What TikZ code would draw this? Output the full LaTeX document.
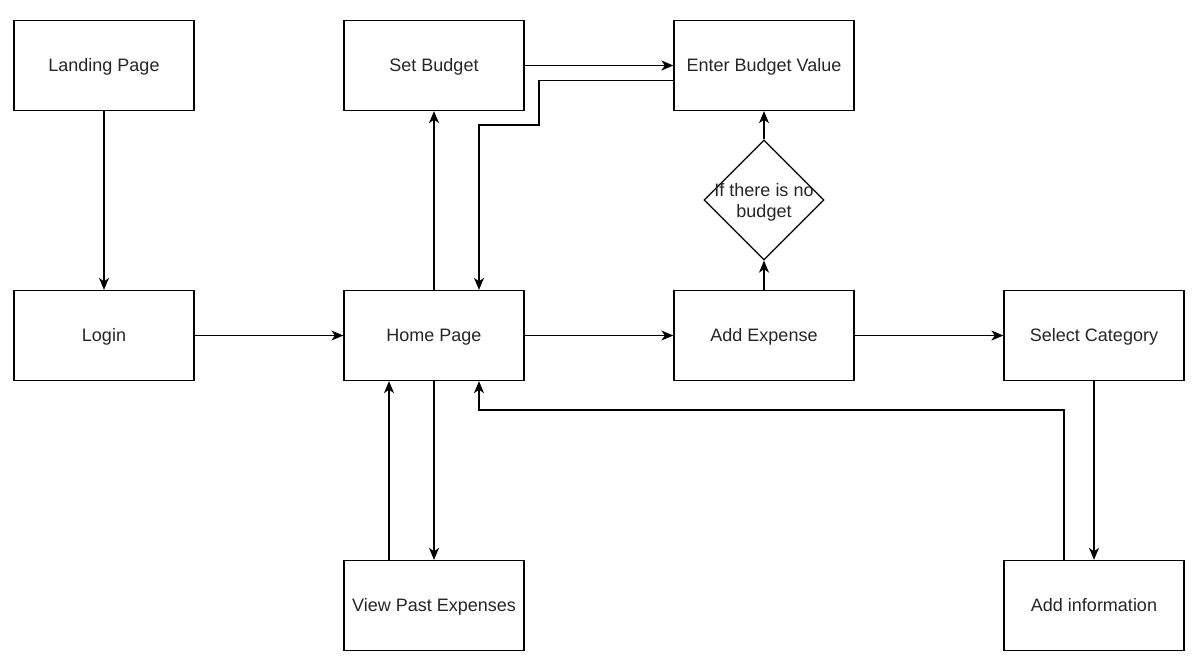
\documentclass[tikz,border=0pt]{standalone}
\usepackage{fontspec}
\setmainfont{Liberation Sans}
\usetikzlibrary{arrows.meta,shapes.geometric}
\begin{document}
\begin{tikzpicture}[x=1pt,y=-1pt,
  box/.style={draw,line width=1.3pt,rectangle,minimum width=180pt,minimum height=90pt,inner sep=0pt,text height=12.9pt,text depth=0pt,font=\fontsize{18}{21}\selectfont,text=black!85},
  dia/.style={draw,line width=1.3pt,diamond,minimum width=120pt,minimum height=120pt,inner sep=0pt},
  lbl/.style={align=center,inner sep=0pt,font=\fontsize{18}{21}\selectfont,text=black!85},
  arr/.style={line width=1.3pt,-{Stealth[length=12pt,width=10pt,inset=3.5pt]}}]
\useasboundingbox (0,0) rectangle (1199,665);
\fill[white] (0,0) rectangle (1199,665);
\node[box] (lp) at (104,65.5) {Landing Page};
\node[box] (sb) at (434,65.5) {Set Budget};
\node[box] (ebv) at (764,65.5) {Enter Budget Value};
\node[box] (login) at (104,335.5) {Login};
\node[box] (home) at (434,335.5) {Home Page};
\node[box] (ae) at (764,335.5) {Add Expense};
\node[box] (sc) at (1094,335.5) {Select Category};
\node[box] (vpe) at (434,605.5) {View Past Expenses};
\node[box] (ai) at (1094,605.5) {Add information};
\node[dia] (d) at (764,200) {};
\node[lbl] (dt) at (764,202) {If there is no\\budget};
\coordinate (c1) at (539,80.5);
\coordinate (c2) at (539,125);
\coordinate (c3) at (479,125);
\coordinate (c4) at (1064,410);
\coordinate (c5) at (479,410);
\draw[arr] (lp.south) -- (login.north);
\draw[arr] (login.east) -- (home.west);
\draw[arr] (home.north) -- (sb.south);
\draw[arr] (sb.east) -- (ebv.west);
\draw[arr] ([yshift=-15pt]ebv.west) -- (c1) -- (c2) -- (c3) -- ([xshift=45pt]home.north);
\draw[arr] (home.east) -- (ae.west);
\draw[arr] (ae.north) -- (d.south);
\draw[arr] (d.north) -- (ebv.south);
\draw[arr] (ae.east) -- (sc.west);
\draw[arr] (sc.south) -- (ai.north);
\draw[arr] ([xshift=-30pt]ai.north) -- (c4) -- (c5) -- ([xshift=45pt]home.south);
\draw[arr] (home.south) -- (vpe.north);
\draw[arr] ([xshift=-45pt]vpe.north) -- ([xshift=-45pt]home.south);
\end{tikzpicture}
\end{document}
